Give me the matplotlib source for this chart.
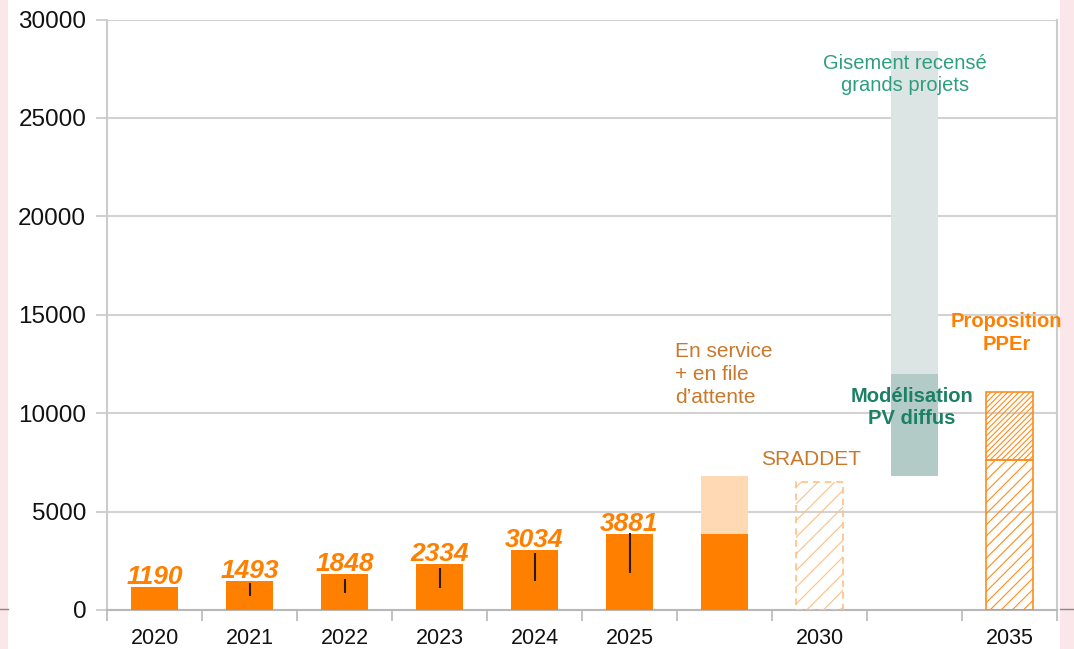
import matplotlib
matplotlib.use("Agg")
import matplotlib.pyplot as plt
from matplotlib.patches import Rectangle
from matplotlib.lines import Line2D

plt.rcParams['font.family'] = ['Liberation Sans', 'DejaVu Sans']
plt.rcParams['hatch.linewidth'] = 0.8

# données (MW)
categories = ['2020', '2021', '2022', '2023', '2024', '2025', '', '2030', '', '2035']
annees_pos = [0, 1, 2, 3, 4, 5]
puissance = [1190, 1493, 1848, 2334, 3034, 3881]
plage_bas = [None, 710, 880, 1130, 1490, 1900]
plage_haut = [None, 1370, 1560, 2120, 2880, 3900]
en_service = 3881
service_plus_file = 6800
sraddet_2030 = 6500
gisement_bas = 6800
pv_diffus_haut = 12000
gisement_haut = 28400
ppe_bas = 7600
ppe_haut = 11100

orange = '#ff8000'
peche = '#ffd9b3'
orange_clair = '#ffbf85'
gris_vert = '#dce5e3'
vert_fonce = '#b3cbc7'
brun = '#c9782c'

fig = plt.figure(figsize=(10.74, 6.49), dpi=100, facecolor='white')
# bandes roses sur les bords
for x0, x1 in [(0, 8), (1060, 1074)]:
    fig.patches.append(Rectangle((x0 / 1074, 0), (x1 - x0) / 1074, 1, transform=fig.transFigure,
                                 facecolor='#fbe7e9', edgecolor='none', zorder=-5))
    fig.lines.append(Line2D([x0 / 1074, x1 / 1074], [40 / 649, 40 / 649],
                            transform=fig.transFigure, color='#888888', lw=1, zorder=-4))

ax = fig.add_axes([107 / 1074, 39 / 649, 950 / 1074, 590.5 / 649])
ax.set_facecolor('white')

w = 0.5
ax.bar(annees_pos, puissance, width=w, color=orange, zorder=3)
for x, lo, hi in zip(annees_pos, plage_bas, plage_haut):
    if lo is not None:
        ax.vlines(x, lo, hi, color='#2a1a08', lw=1.5, zorder=4)
for x, v in zip(annees_pos, puissance):
    ax.text(x, v + 150, str(v), ha='center', va='baseline', color=orange,
            fontsize=19, fontweight='bold', fontstyle='italic', zorder=5)

# en service + file d'attente
ax.bar(6, en_service, width=w, color=orange, zorder=3)
ax.bar(6, service_plus_file - en_service, bottom=en_service, width=w, color=peche, zorder=3)

# SRADDET 2030
ax.bar(7, sraddet_2030, width=w, facecolor='none', edgecolor=orange_clair,
       linestyle=(0, (4, 3)), lw=1.2, hatch='//', zorder=3)

# gisement
ax.bar(8, gisement_haut - gisement_bas, bottom=gisement_bas, width=w, color=gris_vert, zorder=3)
ax.bar(8, pv_diffus_haut - gisement_bas, bottom=gisement_bas, width=w, color=vert_fonce, zorder=3)

# PPE 2035
ax.bar(9, ppe_bas, width=w, facecolor='none', edgecolor='#ff8c1a', lw=1.2, hatch='///', zorder=3)
ax.bar(9, ppe_haut - ppe_bas, bottom=ppe_bas, width=w, facecolor='none',
       edgecolor='#ff8c1a', lw=1.2, hatch='//////', zorder=3)

# annotations
ax.text(5.48, 13600, "En service\n+ en file\nd\u2019attente", ha='left', va='top',
        color=brun, fontsize=15, linespacing=1.26, zorder=5)
ax.text(6.91, 7370, "SRADDET", ha='center', va='baseline', color=brun, fontsize=15, zorder=5)
ax.text(7.9, 28250, "Gisement recens\u00e9\ngrands projets", ha='center', va='top',
        color='#2f9e80', fontsize=14.5, linespacing=1.2, zorder=5)
ax.text(7.97, 11350, "Mod\u00e9lisation\nPV diffus", ha='center', va='top',
        color='#1b8065', fontsize=14.5, fontweight='bold', linespacing=1.25, zorder=5)
ax.text(8.97, 15150, "Proposition\nPPEr", ha='center', va='top', color=orange,
        fontsize=14.5, fontweight='bold', linespacing=1.25, zorder=5, clip_on=False)

ax.set_xlim(-0.5, 9.5)
ax.set_ylim(0, 30000)
ax.set_yticks(range(0, 30001, 5000))
ax.set_xticks(range(10))
ax.set_xticklabels(categories)
ax.set_xticks([i - 0.5 for i in range(11)], minor=True)
ax.tick_params(axis='x', which='major', length=0, pad=13, labelsize=15.5, labelcolor='#111111')
ax.tick_params(axis='x', which='minor', length=8, width=1.2, color='#b8b8b8', direction='out')
ax.tick_params(axis='y', length=8, width=1.2, color='#c8c8c8', pad=7, labelsize=17.5,
               labelcolor='#111111')
ax.grid(axis='y', color='#d2d2d2', lw=1.5, zorder=1)
for s in ['left', 'right']:
    ax.spines[s].set_color('#cccccc')
    ax.spines[s].set_linewidth(1.5)
ax.spines['top'].set_visible(False)
ax.spines['bottom'].set_color('#b8b8b8')
ax.spines['bottom'].set_linewidth(1.5)

fig.savefig('out.png', dpi=100, facecolor=fig.get_facecolor())
